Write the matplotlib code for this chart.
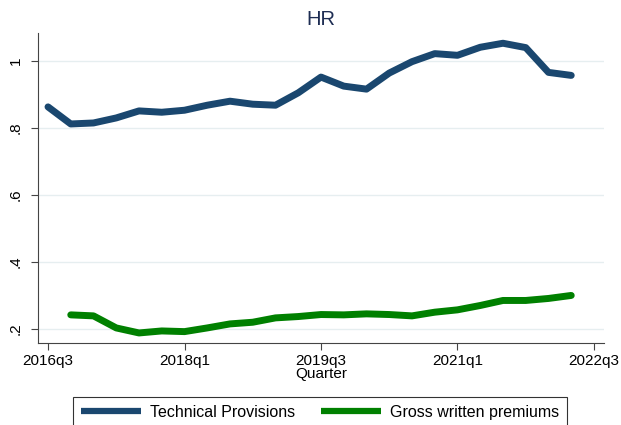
import matplotlib
matplotlib.use("Agg")
import matplotlib.pyplot as plt

quarters = ["2016q3","2016q4","2017q1","2017q2","2017q3","2017q4","2018q1","2018q2",
            "2018q3","2018q4","2019q1","2019q2","2019q3","2019q4","2020q1","2020q2",
            "2020q3","2020q4","2021q1","2021q2","2021q3","2021q4","2022q1","2022q2"]
technical_provisions = [0.863,0.812,0.815,0.830,0.851,0.847,0.853,0.868,
                        0.880,0.871,0.868,0.905,0.952,0.925,0.916,0.964,
                        0.998,1.022,1.017,1.041,1.053,1.040,0.966,0.957]
gross_written_premiums = [None,0.242,0.239,0.203,0.188,0.194,0.192,0.203,
                          0.215,0.220,0.233,0.237,0.243,0.242,0.245,0.243,
                          0.239,0.250,0.257,0.270,0.285,0.285,0.291,0.300]
xtick_labels = ["2016q3","2018q1","2019q3","2021q1","2022q3"]
ytick_values = [0.2,0.4,0.6,0.8,1.0]
ytick_labels = [".2",".4",".6",".8","1"]

plt.rcParams['font.family'] = ['Liberation Sans', 'DejaVu Sans']

fig = plt.figure(figsize=(6.21,4.25), dpi=100)
ax = fig.add_axes([38/621, 1-343/425, (604-38)/621, (343-33)/425])

x = list(range(len(quarters)))
ax.plot(x, technical_provisions, color='#1a476f', lw=5, solid_capstyle='round',
        solid_joinstyle='round', label='Technical Provisions', zorder=3)
gx = [i for i,v in zip(x,gross_written_premiums) if v is not None]
gy = [v for v in gross_written_premiums if v is not None]
ax.plot(gx, gy, color='#008000', lw=5, solid_capstyle='round',
        solid_joinstyle='round', label='Gross written premiums', zorder=3)

ax.set_xlim(-0.44, 24.44)
ax.set_ylim(0.158, 1.0836)
xt = [0,6,12,18,24]
ax.set_xticks(xt)
ax.set_xticklabels(xtick_labels, fontsize=11)
ax.set_yticks(ytick_values)
ax.set_yticklabels(ytick_labels, fontsize=11, rotation=90, va='center')
ax.tick_params(axis='x', length=5, width=0.8, color='#444444', pad=3)
ax.tick_params(axis='y', length=5, width=0.8, color='#444444', pad=6)
ax.grid(axis='y', color='#e6eef0', lw=1)
ax.set_axisbelow(True)
for s in ['top','right']:
    ax.spines[s].set_visible(False)
for s in ['left','bottom']:
    ax.spines[s].set_color('#444444')
    ax.spines[s].set_linewidth(0.8)
ax.set_xlabel('Quarter', fontsize=11, labelpad=-1)
ax.set_title('HR', fontsize=14.5, color='#1e2d53', pad=6)

leg = fig.legend(loc='lower center', bbox_to_anchor=(320/621, -0.006), ncol=2,
                 fontsize=11.5, handlelength=3.75, handletextpad=0.56, frameon=True,
                 fancybox=False, edgecolor='black', borderpad=0.5,
                 columnspacing=1.63, borderaxespad=0.0)
leg.get_frame().set_linewidth(0.8)
for h in leg.get_lines():
    h.set_linewidth(4.5)
    h.set_solid_capstyle('butt')

fig.savefig('out.png', dpi=100)
